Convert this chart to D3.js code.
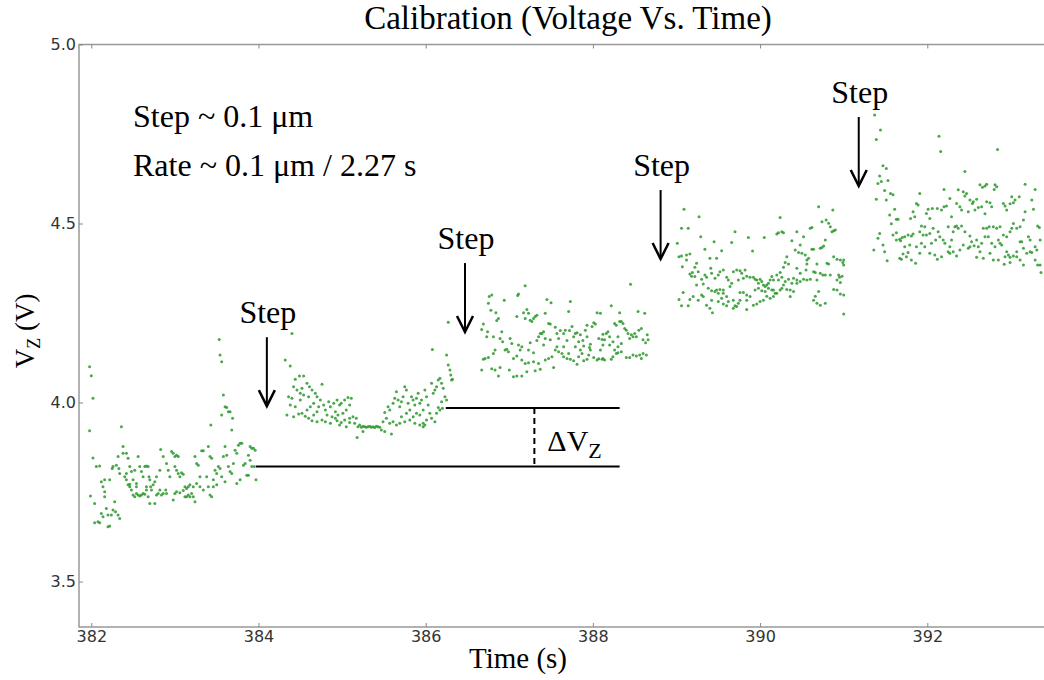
<!DOCTYPE html>
<html>
<head>
<meta charset="utf-8">
<script src="https://cdn.jsdelivr.net/npm/d3@7"></script>
<style>
body{margin:0;background:#fff;}
.tick text{font-family:"DejaVu Sans";font-size:16px;fill:#333;}
.tick line{stroke:#888;}
.serif{font-family:"Liberation Serif";fill:#000;}
</style>
</head>
<body>
<div id="chart"></div>
<script>
// voltage readings [time (s), Vz (V)], one array per plateau
var seg1 = [[381.98,4.100],[382.00,4.075],[382.02,4.012],[381.98,3.921],[382.02,3.845],[382.06,3.821],[382.10,3.823],[381.99,3.739],[382.04,3.718],[382.04,3.664],[382.08,3.667],[382.10,3.664],[382.12,3.690],[382.14,3.765],[382.16,3.751],[382.16,3.737],[382.14,3.681],[382.18,3.704],[382.20,3.653],[382.22,3.655],[382.20,3.686],[382.24,3.686],[382.26,3.700],[382.28,3.723],[382.29,3.695],[382.32,3.686],[382.34,3.676],[382.22,3.784],[382.16,3.784],[382.12,3.779],[382.25,3.816],[382.26,3.821],[382.30,3.825],[382.32,3.849],[382.36,3.932],[382.38,3.877],[382.38,3.858],[382.42,3.858],[382.44,3.844],[382.46,3.821],[382.42,3.802],[382.40,3.793],[382.34,3.802],[382.33,3.816],[382.44,3.770],[382.46,3.765],[382.48,3.756],[382.50,3.742],[382.52,3.737],[382.54,3.746],[382.56,3.849],[382.58,3.821],[382.60,3.807],[382.62,3.793],[382.64,3.821],[382.66,3.823],[382.68,3.821],[382.69,3.793],[382.70,3.784],[382.71,3.765],[382.58,3.739],[382.60,3.742],[382.64,3.744],[382.66,3.765],[382.70,3.718],[382.76,3.718],[382.78,3.742],[382.80,3.746],[382.82,3.756],[382.83,3.869],[382.86,3.849],[382.90,3.830],[382.92,3.811],[382.94,3.793],[382.96,3.863],[382.98,3.858],[383.00,3.849],[383.02,3.853],[383.04,3.849],[383.00,3.821],[383.02,3.811],[383.04,3.802],[383.06,3.793],[383.08,3.804],[383.10,3.800],[382.98,3.728],[383.00,3.746],[383.02,3.751],[383.06,3.748],[383.12,3.765],[383.14,3.760],[383.16,3.765],[383.18,3.770],[383.20,3.746],[383.22,3.737],[383.24,3.723],[383.24,3.849],[383.26,3.830],[383.28,3.825],[383.30,3.793],[383.32,3.865],[383.34,3.865],[383.38,3.793],[383.40,3.877],[383.42,3.849],[383.44,3.844],[383.40,3.765],[383.42,3.742],[383.44,3.737],[383.46,3.765],[383.48,3.811],[383.50,3.802],[383.52,3.821],[383.53,4.176],[383.54,4.133],[383.56,4.114],[383.58,4.021],[383.56,3.965],[383.60,3.988],[383.62,3.986],[383.64,3.974],[383.66,3.974],[383.69,3.956],[383.68,3.923],[383.43,3.937],[383.60,3.877],[383.58,3.849],[383.62,3.853],[383.64,3.821],[383.66,3.807],[383.68,3.802],[383.70,3.830],[383.72,3.867],[383.74,3.858],[383.76,3.881],[383.78,3.886],[383.80,3.886],[383.74,3.774],[383.78,3.784],[383.82,3.825],[383.84,3.830],[383.86,3.797],[383.88,3.797],[383.90,3.877],[383.92,3.872],[383.94,3.872],[383.96,3.867],[383.88,3.853],[383.90,3.839],[383.92,3.821],[383.95,3.821],[383.97,3.784],[383.60,3.779],[383.56,3.793],[383.54,3.816],[383.50,3.770],[383.46,3.784],[383.34,3.756],[383.30,3.765],[383.26,3.774],[383.22,3.765],[383.18,3.737],[383.16,3.742],[383.14,3.737],[383.12,3.737],[383.10,3.754],[382.90,3.746],[382.89,3.756],[382.86,3.746],[382.84,3.742],[382.82,3.811],[382.78,3.793],[382.76,3.779],[382.74,3.770],[382.72,3.756],[382.68,3.737],[382.66,3.756],[382.62,3.746],[382.56,3.742],[382.54,3.765],[382.50,3.784],[382.48,3.807],[382.52,3.811],[382.54,3.774],[382.42,3.784],[382.46,3.772]];
var seg2 = [[384.40,4.193],[384.32,4.119],[384.38,4.102],[384.49,4.074],[384.44,4.065],[384.54,4.074],[384.42,4.044],[384.46,4.035],[384.52,4.040],[384.58,4.054],[384.61,4.044],[384.50,4.026],[384.36,4.016],[384.40,4.012],[384.38,3.993],[384.44,3.988],[384.50,4.007],[384.54,4.021],[384.60,4.016],[384.64,4.035],[384.68,4.026],[384.70,4.016],[384.76,4.051],[384.74,4.007],[384.66,3.998],[384.62,3.988],[384.58,3.979],[384.52,3.970],[384.48,3.968],[384.34,3.965],[384.42,3.960],[384.56,3.962],[384.60,3.956],[384.66,3.965],[384.70,3.974],[384.72,3.988],[384.78,3.993],[384.80,3.979],[384.84,4.002],[384.86,3.988],[384.90,3.998],[384.92,3.974],[384.94,4.007],[384.97,3.993],[384.99,3.998],[385.03,4.007],[385.07,4.014],[385.11,4.012],[385.09,3.993],[385.05,3.979],[385.01,3.970],[384.95,3.965],[384.88,3.960],[384.82,3.965],[384.76,3.951],[384.80,3.946],[384.86,3.942],[384.94,3.949],[384.97,3.937],[385.03,3.951],[385.09,3.956],[385.13,3.960],[385.17,3.956],[385.15,3.942],[385.09,3.944],[385.05,3.932],[384.99,3.944],[384.92,3.956],[384.70,3.946],[384.64,3.949],[385.19,3.932],[385.21,3.937],[385.23,3.931],[385.25,3.934],[385.27,3.932],[385.29,3.931],[385.31,3.932],[385.33,3.934],[385.35,3.931],[385.37,3.932],[385.39,3.930],[385.41,3.934],[385.43,3.932],[385.45,3.931],[385.18,3.902],[385.25,3.919],[385.47,3.923],[385.51,3.919],[385.59,3.912],[385.49,3.946],[385.53,3.956],[385.51,3.972],[385.55,3.988],[385.57,3.979],[385.61,3.998],[385.63,4.012],[385.65,4.030],[385.67,4.007],[385.69,3.988],[385.71,4.002],[385.73,4.016],[385.75,4.044],[385.77,4.035],[385.79,3.998],[385.81,3.979],[385.83,4.016],[385.85,4.007],[385.87,3.993],[385.89,4.012],[385.91,4.026],[385.93,3.998],[385.95,4.007],[385.97,3.979],[385.99,4.035],[386.01,4.016],[386.03,3.993],[386.05,3.970],[386.07,4.054],[386.09,4.026],[386.11,4.035],[386.13,4.044],[386.15,4.063],[386.17,4.068],[386.19,4.054],[386.21,4.040],[386.23,4.016],[386.19,4.002],[386.17,3.979],[386.13,3.970],[386.07,3.956],[386.01,3.951],[385.97,3.942],[385.93,3.937],[385.87,3.942],[385.81,3.951],[385.75,3.946],[385.69,3.942],[385.65,3.937],[385.61,3.946],[385.57,3.942],[385.71,3.960],[385.77,3.970],[385.85,3.960],[385.89,3.970],[385.93,3.965],[385.99,3.937],[385.97,3.932],[386.25,4.007],[386.27,4.105],[386.29,4.091],[386.30,4.077],[386.31,4.063],[386.32,4.065],[386.25,4.133],[386.08,4.148],[386.27,4.224],[386.20,3.984],[386.15,3.986],[386.11,3.946]];
var seg3 = [[386.69,4.219],[386.67,4.204],[386.74,4.198],[386.73,4.184],[386.76,4.296],[386.79,4.300],[386.75,4.277],[386.78,4.258],[386.84,4.251],[386.87,4.235],[386.85,4.229],[386.81,4.184],[386.91,4.198],[386.94,4.286],[386.89,4.179],[386.92,4.170],[386.95,4.147],[386.97,4.149],[386.99,4.142],[387.01,4.179],[387.03,4.165],[386.83,4.147],[386.81,4.137],[386.71,4.123],[386.69,4.121],[386.75,4.126],[386.67,4.091],[386.79,4.094],[386.83,4.091],[386.87,4.074],[386.89,4.098],[387.00,4.091],[387.05,4.072],[387.10,4.299],[387.11,4.303],[387.09,4.240],[387.17,4.251],[387.23,4.249],[387.21,4.260],[387.19,4.235],[387.25,4.230],[387.29,4.235],[387.31,4.240],[387.33,4.244],[387.27,4.226],[387.43,4.249],[387.45,4.288],[387.50,4.279],[387.41,4.198],[387.39,4.193],[387.35,4.184],[387.33,4.173],[387.25,4.167],[387.23,4.147],[387.29,4.139],[387.15,4.156],[387.11,4.161],[387.13,4.147],[387.09,4.130],[387.05,4.123],[387.15,4.119],[387.19,4.109],[387.23,4.111],[387.29,4.114],[387.35,4.109],[387.37,4.093],[387.31,4.089],[387.21,4.086],[387.15,4.074],[387.09,4.074],[387.19,4.326],[387.43,4.119],[387.47,4.123],[387.53,4.098],[387.51,4.128],[387.55,4.147],[387.59,4.142],[387.57,4.156],[387.63,4.137],[387.65,4.128],[387.69,4.123],[387.71,4.137],[387.73,4.121],[387.77,4.117],[387.81,4.107],[387.83,4.128],[387.87,4.137],[387.89,4.117],[387.93,4.121],[387.95,4.133],[387.97,4.147],[388.01,4.126],[388.05,4.119],[388.07,4.122],[388.11,4.121],[388.12,4.123],[388.14,4.119],[388.22,4.121],[388.24,4.128],[388.28,4.137],[388.30,4.139],[388.34,4.142],[388.40,4.126],[388.44,4.126],[388.48,4.133],[388.52,4.130],[388.56,4.133],[388.60,4.137],[388.64,4.133],[388.58,4.123],[387.47,4.221],[387.49,4.219],[387.55,4.210],[387.57,4.193],[387.59,4.179],[387.61,4.201],[387.65,4.193],[387.67,4.202],[387.69,4.173],[387.72,4.201],[387.73,4.282],[387.71,4.254],[387.75,4.212],[387.77,4.184],[387.79,4.193],[387.81,4.195],[387.83,4.170],[387.85,4.189],[387.88,4.173],[387.89,4.158],[387.91,4.202],[387.93,4.184],[387.93,4.216],[387.96,4.154],[387.99,4.212],[388.01,4.223],[388.03,4.219],[388.05,4.251],[388.07,4.179],[388.09,4.249],[388.11,4.176],[388.12,4.191],[388.14,4.175],[388.16,4.193],[388.18,4.198],[388.20,4.184],[388.22,4.270],[388.24,4.170],[388.26,4.221],[388.28,4.216],[388.30,4.184],[388.32,4.226],[388.32,4.251],[388.34,4.226],[388.36,4.221],[388.38,4.207],[388.40,4.202],[388.42,4.193],[388.44,4.179],[388.45,4.330],[388.46,4.189],[388.48,4.184],[388.50,4.193],[388.52,4.184],[388.54,4.254],[388.55,4.202],[388.58,4.207],[388.60,4.175],[388.62,4.249],[388.63,4.167],[388.65,4.189],[388.66,4.175],[388.30,4.156],[388.34,4.165],[388.26,4.147],[388.20,4.161],[388.12,4.161],[388.09,4.147],[387.85,4.147],[387.79,4.156],[387.97,4.163],[387.65,4.156],[387.49,4.175],[387.41,4.161],[387.43,4.179],[387.37,4.193]];
var seg4 = [[389.09,4.540],[389.27,4.519],[389.06,4.487],[389.14,4.487],[389.29,4.463],[389.01,4.445],[389.03,4.407],[389.06,4.409],[389.12,4.412],[389.16,4.415],[389.12,4.398],[389.34,4.428],[389.45,4.449],[389.54,4.424],[389.40,4.403],[389.48,4.403],[389.24,4.389],[389.22,4.378],[389.07,4.379],[389.16,4.359],[389.19,4.363],[389.18,4.353],[389.22,4.352],[389.26,4.365],[389.30,4.344],[389.34,4.356],[389.36,4.350],[389.41,4.375],[389.42,4.361],[389.46,4.347],[389.50,4.356],[389.52,4.365],[389.56,4.370],[389.60,4.350],[389.62,4.342],[389.66,4.447],[389.70,4.477],[389.68,4.365],[389.72,4.370],[389.76,4.368],[389.78,4.361],[389.82,4.370],[389.84,4.353],[389.80,4.347],[389.74,4.342],[389.66,4.333],[389.64,4.324],[389.56,4.314],[389.52,4.316],[389.48,4.314],[389.46,4.310],[389.42,4.312],[389.38,4.319],[389.32,4.331],[389.24,4.328],[389.20,4.296],[389.16,4.288],[389.08,4.307],[389.03,4.288],[389.06,4.270],[389.14,4.270],[389.26,4.286],[389.30,4.300],[389.32,4.296],[389.36,4.272],[389.40,4.263],[389.43,4.251],[389.50,4.305],[389.54,4.291],[389.60,4.296],[389.62,4.282],[389.56,4.275],[389.60,4.270],[389.68,4.286],[389.70,4.270],[389.74,4.277],[389.76,4.307],[389.80,4.307],[389.84,4.300],[389.88,4.350],[389.92,4.350],[389.94,4.344],[389.96,4.342],[389.98,4.333],[390.00,4.344],[390.02,4.338],[390.04,4.328],[390.06,4.324],[390.08,4.328],[390.10,4.333],[390.12,4.342],[390.14,4.352],[390.16,4.342],[390.20,4.356],[390.24,4.363],[390.28,4.378],[390.32,4.407],[390.34,4.387],[390.30,4.391],[389.86,4.461],[389.91,4.423],[390.05,4.461],[390.20,4.471],[390.22,4.474],[390.26,4.477],[390.28,4.474],[390.24,4.517],[390.38,4.452],[390.44,4.477],[390.48,4.440],[390.42,4.426],[390.46,4.419],[390.50,4.417],[390.54,4.412],[390.56,4.398],[390.58,4.403],[390.60,4.487],[390.62,4.489],[390.62,4.428],[390.52,4.463],[390.56,4.387],[390.55,4.370],[390.64,4.365],[390.66,4.363],[390.68,4.387],[390.72,4.361],[390.75,4.356],[390.78,4.356],[390.80,4.389],[390.82,4.387],[390.84,4.356],[390.88,4.407],[390.92,4.400],[390.96,4.398],[390.99,4.391],[390.70,4.547],[390.74,4.505],[390.79,4.510],[390.82,4.501],[390.84,4.491],[390.86,4.477],[390.88,4.480],[390.90,4.482],[390.87,4.538],[390.72,4.431],[390.74,4.433],[390.76,4.437],[390.78,4.454],[390.64,4.428],[390.68,4.342],[390.70,4.310],[390.72,4.272],[390.68,4.277],[390.64,4.286],[390.66,4.297],[390.78,4.277],[390.88,4.316],[390.92,4.314],[390.96,4.303],[391.00,4.300],[391.00,4.247],[390.96,4.335],[390.95,4.350],[390.94,4.356],[390.98,4.353],[391.00,4.384],[391.00,4.398],[390.92,4.342],[390.44,4.342],[390.40,4.347],[390.38,4.333],[390.36,4.314],[390.32,4.316],[390.28,4.328],[390.26,4.319],[390.24,4.314],[390.20,4.305],[390.16,4.296],[390.12,4.291],[390.08,4.297],[390.04,4.286],[390.00,4.282],[389.96,4.275],[389.92,4.272],[389.94,4.314],[389.98,4.319],[390.02,4.312],[390.06,4.310],[390.10,4.319],[390.14,4.314],[390.18,4.305],[390.36,4.296],[390.40,4.310],[390.44,4.333],[390.48,4.338],[390.52,4.344],[390.56,4.342],[390.60,4.344],[390.48,4.361],[390.44,4.375],[390.34,4.344],[390.30,4.338],[390.26,4.350],[390.22,4.342],[390.16,4.314],[389.88,4.296],[389.84,4.286],[389.76,4.286],[389.72,4.268],[389.68,4.263],[389.84,4.260],[389.50,4.282],[389.42,4.286],[389.56,4.305]];
var seg5 = [[391.37,4.803],[391.44,4.761],[391.39,4.735],[391.47,4.661],[391.51,4.654],[391.43,4.633],[391.45,4.617],[391.41,4.612],[391.53,4.620],[391.49,4.592],[391.56,4.584],[391.59,4.580],[391.39,4.568],[391.51,4.566],[391.61,4.540],[391.55,4.524],[391.63,4.512],[391.65,4.512],[391.57,4.499],[391.43,4.472],[391.41,4.459],[391.47,4.440],[391.36,4.426],[391.49,4.421],[391.52,4.396],[391.63,4.474],[391.59,4.468],[391.67,4.456],[391.63,4.454],[391.68,4.452],[391.70,4.461],[391.73,4.463],[391.77,4.468],[391.81,4.465],[391.83,4.471],[391.87,4.435],[391.79,4.440],[391.73,4.435],[391.71,4.415],[391.75,4.407],[391.77,4.419],[391.69,4.400],[391.67,4.403],[391.81,4.398],[391.86,4.389],[391.91,4.584],[391.87,4.556],[391.89,4.552],[391.83,4.533],[391.80,4.514],[391.85,4.519],[391.93,4.493],[391.97,4.491],[391.91,4.477],[391.95,4.468],[391.99,4.468],[392.03,4.472],[392.07,4.487],[392.03,4.514],[391.99,4.528],[392.01,4.540],[392.06,4.542],[392.12,4.542],[392.17,4.538],[392.20,4.547],[392.23,4.549],[392.14,4.744],[392.16,4.701],[392.20,4.595],[392.27,4.570],[392.29,4.519],[392.25,4.491],[392.13,4.477],[392.15,4.463],[392.10,4.454],[392.05,4.445],[391.97,4.435],[391.93,4.445],[391.91,4.417],[392.03,4.417],[392.09,4.412],[392.12,4.400],[392.17,4.407],[392.21,4.445],[392.27,4.435],[392.29,4.454],[392.31,4.477],[392.33,4.491],[392.35,4.493],[392.37,4.487],[392.41,4.493],[392.45,4.477],[392.51,4.465],[392.53,4.449],[392.49,4.431],[392.43,4.440],[392.39,4.426],[392.35,4.409],[392.31,4.421],[392.27,4.417],[392.25,4.421],[392.19,4.454],[392.45,4.645],[392.49,4.533],[392.45,4.577],[392.47,4.584],[392.37,4.594],[392.43,4.589],[392.35,4.556],[392.39,4.547],[392.41,4.538],[392.51,4.566],[392.55,4.561],[392.59,4.568],[392.57,4.538],[392.54,4.556],[392.61,4.545],[392.63,4.608],[392.66,4.601],[392.69,4.605],[392.71,4.610],[392.65,4.547],[392.69,4.527],[392.71,4.561],[392.75,4.558],[392.77,4.547],[392.81,4.608],[392.83,4.603],[392.80,4.595],[392.84,4.707],[392.91,4.556],[392.93,4.549],[392.95,4.538],[392.99,4.555],[393.03,4.558],[393.01,4.575],[393.05,4.566],[393.10,4.575],[393.17,4.610],[393.25,4.566],[393.27,4.540],[393.29,4.595],[393.32,4.493],[393.34,4.489],[393.17,4.533],[393.15,4.510],[393.11,4.491],[393.07,4.487],[393.03,4.500],[393.01,4.487],[392.99,4.477],[392.95,4.463],[392.91,4.468],[392.87,4.491],[392.83,4.487],[392.79,4.491],[392.74,4.491],[392.71,4.487],[392.67,4.487],[392.73,4.463],[392.69,4.463],[392.65,4.445],[392.61,4.435],[392.56,4.438],[392.59,4.454],[392.51,4.435],[392.63,4.421],[392.59,4.406],[392.67,4.403],[392.75,4.417],[392.77,4.445],[392.81,4.435],[392.87,4.445],[392.89,4.440],[392.95,4.421],[392.97,4.412],[392.99,4.406],[393.03,4.409],[393.07,4.421],[393.11,4.449],[393.13,4.449],[393.15,4.431],[393.19,4.417],[393.23,4.421],[393.25,4.419],[393.29,4.398],[393.32,4.384],[393.35,4.384],[393.36,4.363],[393.15,4.384],[393.11,4.398],[393.07,4.407],[392.99,4.391],[392.93,4.407],[392.92,4.386],[392.85,4.398],[392.79,4.398],[392.85,4.454],[393.21,4.463],[393.23,4.454],[393.31,4.426],[393.29,4.435],[393.35,4.454]];

var xTicks = [382, 384, 386, 388, 390, 392];
var yTicks = [3.5, 4.0, 4.5, 5.0];

// step annotations: time of the arrow and voltage at its tip
var stepTimes = [384.10, 386.47, 388.81, 391.18];
var stepTips = [3.987, 4.194, 4.398, 4.602];

// delta Vz marker
var levelLow = 3.821, levelHigh = 3.985;
var lowStart = 383.97, highStart = 386.24, levelEnd = 388.32, deltaTime = 387.30;

var W = 1044, H = 680;
var plotL = 79, plotT = 44.5, plotB = 627, plotR = 1053;

var svg = d3.select("#chart").append("svg")
	.attr("width", W)
	.attr("height", H);

var x = d3.scaleLinear().domain([381.853, 393.5]).range([plotL, plotL + (393.5 - 381.853) * 83.6]);
var y = d3.scaleLinear().domain([3.373, 5.0]).range([plotB, plotT]);

//frame
svg.append("rect")
	.attr("x", plotL).attr("y", plotT)
	.attr("width", plotR - plotL).attr("height", plotB - plotT)
	.attr("fill", "none").attr("stroke", "#999").attr("stroke-width", 1.5);

//axes with inward ticks
var gx = svg.append("g").attr("transform", "translate(0," + plotB + ")")
	.call(d3.axisBottom(x).tickValues(xTicks).tickFormat(d3.format("d")).tickSizeInner(-4).tickSizeOuter(0).tickPadding(4));
var gxTop = svg.append("g").attr("transform", "translate(0," + plotT + ")")
	.call(d3.axisTop(x).tickValues(xTicks).tickFormat("").tickSizeInner(-4).tickSizeOuter(0));
var gy = svg.append("g").attr("transform", "translate(" + plotL + ",0)")
	.call(d3.axisLeft(y).tickValues(yTicks).tickFormat(d3.format(".1f")).tickSizeInner(-4).tickSizeOuter(0).tickPadding(3));
[gx, gxTop, gy].forEach(function(g) { g.select(".domain").remove(); });

//points
var pts = seg1.concat(seg2, seg3, seg4, seg5);
svg.append("g").selectAll("circle")
	.data(pts)
	.enter()
	.append("circle")
	.attr("cx", function(d) { return x(d[0]); })
	.attr("cy", function(d) { return y(d[1]); })
	.attr("r", 1.5)
	.attr("fill", "#2b982b")
	.attr("opacity", 0.85);

//title and labels
svg.append("text").attr("class", "serif")
	.attr("x", 568).attr("y", 29)
	.attr("text-anchor", "middle").style("font-size", "33px")
	.text("Calibration (Voltage Vs. Time)");

svg.append("text").attr("class", "serif")
	.attr("x", 518).attr("y", 668)
	.attr("text-anchor", "middle").style("font-size", "29px")
	.text("Time (s)");

var yl = svg.append("text").attr("class", "serif")
	.attr("transform", "translate(34,331) rotate(-90)")
	.attr("text-anchor", "middle").style("font-size", "27px");
yl.append("tspan").text("V");
yl.append("tspan").attr("dy", 6).style("font-size", "18px").text("Z");
yl.append("tspan").attr("dy", -6).text(" (V)");

svg.append("text").attr("class", "serif")
	.attr("x", 133).attr("y", 127).style("font-size", "32px")
	.text("Step ~ 0.1 \u03bcm");
svg.append("text").attr("class", "serif")
	.attr("x", 133).attr("y", 176).style("font-size", "32px")
	.text("Rate ~ 0.1 \u03bcm / 2.27 s");

//step arrows
var steps = svg.append("g").selectAll("g")
	.data(stepTimes)
	.enter()
	.append("g")
	.attr("transform", function(d, i) { return "translate(" + x(d) + "," + y(stepTips[i]) + ")"; });
steps.append("line")
	.attr("x1", 0).attr("y1", -70).attr("x2", 0).attr("y2", -1)
	.attr("stroke", "#000").attr("stroke-width", 2);
steps.append("path")
	.attr("d", "M-8,-17L0,-1L8,-17")
	.attr("fill", "none").attr("stroke", "#000").attr("stroke-width", 2.5);
steps.append("text").attr("class", "serif")
	.attr("x", 1).attr("y", -84)
	.attr("text-anchor", "middle").style("font-size", "32px")
	.text("Step");

//delta Vz lines
svg.append("line")
	.attr("x1", x(lowStart)).attr("x2", x(levelEnd))
	.attr("y1", y(levelLow)).attr("y2", y(levelLow))
	.attr("stroke", "#000").attr("stroke-width", 2);
svg.append("line")
	.attr("x1", x(highStart)).attr("x2", x(levelEnd))
	.attr("y1", y(levelHigh)).attr("y2", y(levelHigh))
	.attr("stroke", "#000").attr("stroke-width", 2);
svg.append("line")
	.attr("x1", x(deltaTime)).attr("x2", x(deltaTime))
	.attr("y1", y(levelHigh)).attr("y2", y(levelLow))
	.attr("stroke", "#000").attr("stroke-width", 2).attr("stroke-dasharray", "6,4");

var dv = svg.append("text").attr("class", "serif")
	.attr("x", x(deltaTime) + 13).attr("y", 451).style("font-size", "30px");
dv.append("tspan").text("\u0394V");
dv.append("tspan").attr("dy", 7).style("font-size", "22px").text("Z");
</script>
</body>
</html>
